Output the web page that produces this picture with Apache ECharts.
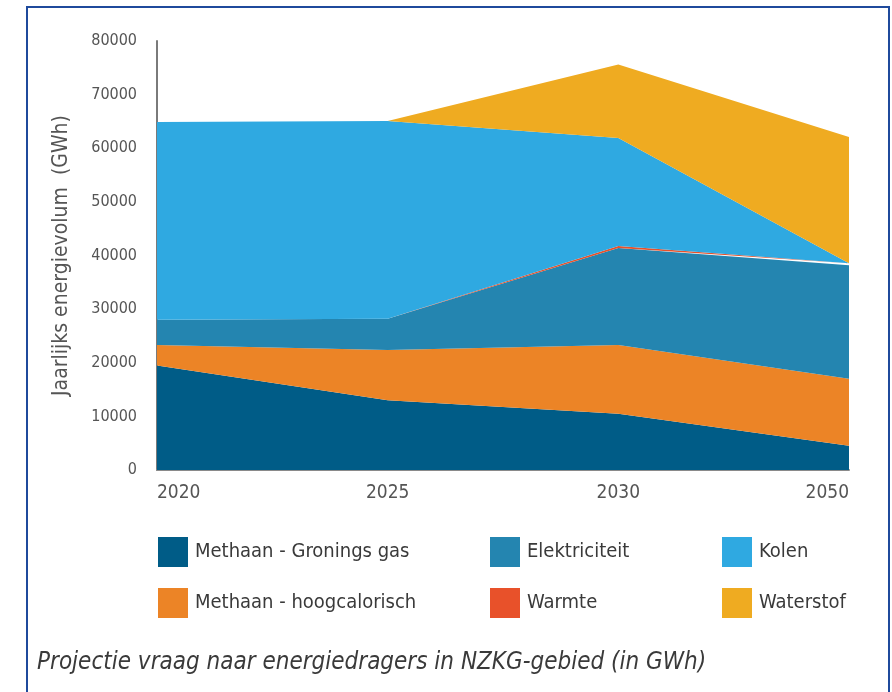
<!DOCTYPE html>
<html>
<head>
<meta charset="utf-8">
<script src="https://cdn.jsdelivr.net/npm/echarts@6/dist/echarts.min.js"></script>
<style>
html,body{margin:0;padding:0;background:#fff;}
#c{width:892px;height:692px;}
</style>
</head>
<body>
<div id="c"></div>
<script>
var years = ['2020', '2025', '2030', '2050'];
var gronings = [19500, 13000, 10500, 4500];
var hoogcalorisch = [3800, 9400, 12800, 12500];
var elektriciteit = [4700, 5800, 18100, 21200];
var warmte = [0, 0, 350, 350];
var kolen = [36900, 36900, 20150, 0];
var waterstof = [0, 0, 13700, 23550];
var yTicks = [0, 10000, 20000, 30000, 40000, 50000, 60000, 70000, 80000];

var FONT = "'DejaVu Sans Condensed','Liberation Sans Narrow',sans-serif";
var colors = {
  'Methaan - Gronings gas': '#005c87',
  'Methaan - hoogcalorisch': '#ec8426',
  'Elektriciteit': '#2485b0',
  'Warmte': '#e8512a',
  'Kolen': '#2fa9e1',
  'Waterstof': '#efab21'
};
function s(name, data) {
  return {
    name: name, type: 'line', stack: 'total', data: data,
    symbol: 'none', smooth: false,
    lineStyle: {width: 0, color: colors[name]},
    areaStyle: {color: colors[name], opacity: 1},
    itemStyle: {color: colors[name]},
    emphasis: {disabled: true}
  };
}
var legendText = {color: '#3a3a3a', fontSize: 20, fontFamily: FONT, padding: [0, 0, 0, 2]};
function legend(left, names) {
  return {
    left: left, top: 537, orient: 'vertical', itemGap: 21, padding: 0,
    itemWidth: 30, itemHeight: 30, icon: 'rect',
    textStyle: legendText, data: names, selectedMode: false
  };
}
var chart = echarts.init(document.getElementById('c'), null, {renderer: 'canvas'});
chart.setOption({
  animation: false,
  backgroundColor: '#fff',
  grid: {left: 157, right: 43, top: 41, bottom: 222},
  xAxis: {
    type: 'category', data: years, boundaryGap: false,
    axisLine: {lineStyle: {color: '#8a8a8a', width: 2}},
    axisTick: {show: false},
    axisLabel: {color: '#555', fontSize: 19, fontFamily: FONT, margin: 14,
      alignMinLabel: 'left', alignMaxLabel: 'right'},
    splitLine: {show: false}
  },
  yAxis: {
    type: 'value', min: yTicks[0], max: yTicks[yTicks.length-1], interval: 10000,
    name: 'Jaarlijks energievolum  (GWh)', nameLocation: 'middle', nameGap: 85,
    nameTextStyle: {color: '#555', fontSize: 21, fontFamily: FONT},
    axisLine: {show: true, lineStyle: {color: '#7a7a7a', width: 2}},
    axisTick: {show: false},
    axisLabel: {color: '#555', fontSize: 16, fontFamily: FONT, margin: 20,
      formatter: function(v){ return String(v); }},
    splitLine: {show: false}
  },
  legend: [
    legend(158, ['Methaan - Gronings gas', 'Methaan - hoogcalorisch']),
    legend(490, ['Elektriciteit', 'Warmte']),
    legend(722, ['Kolen', 'Waterstof'])
  ],
  series: [
    s('Methaan - Gronings gas', gronings),
    s('Methaan - hoogcalorisch', hoogcalorisch),
    s('Elektriciteit', elektriciteit),
    s('Warmte', warmte),
    s('Kolen', kolen),
    s('Waterstof', waterstof)
  ],
  graphic: [
    {type: 'rect', shape: {x: 27, y: 7, width: 862, height: 700},
     style: {fill: 'none', stroke: '#1f4a9c', lineWidth: 2}, silent: true},
    {type: 'text', left: 37, top: 651,
     style: {text: 'Projectie vraag naar energiedragers in NZKG-gebied (in GWh)',
       fill: '#3a3a3a', font: 'italic 24px ' + FONT}}
  ]
});
</script>
</body>
</html>
